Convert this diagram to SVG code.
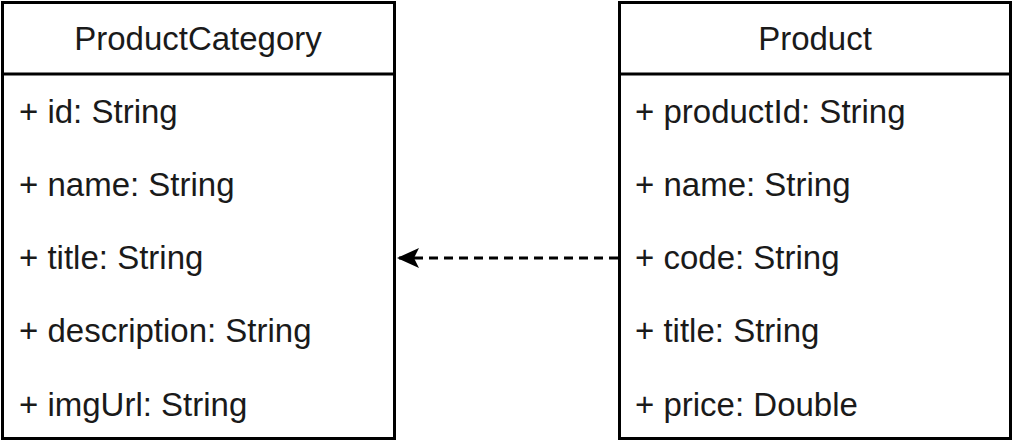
<svg xmlns="http://www.w3.org/2000/svg" width="1014" height="442" viewBox="0 0 1014 442">
<style>
.box{fill:#fff;stroke:#000;stroke-width:3}
.sep{stroke:#000;stroke-width:3}
.t{font-family:"Liberation Sans",Arial,sans-serif;font-size:33px;fill:#1a1a1a}
.h{text-anchor:middle}
.edge{stroke:#000;stroke-width:3;stroke-dasharray:9 6;fill:none}
</style>
<defs>
<marker id="arr" markerUnits="userSpaceOnUse" markerWidth="26" markerHeight="26" refX="23" refY="12" orient="auto" viewBox="0 0 26 24">
<path d="M23,12 L1,2 L6,12 L1,22 Z" fill="#000"/>
</marker>
</defs>
<g id="ProductCategory">
<rect class="box" x="2.5" y="2.5" width="392" height="436"/>
<line class="sep" x1="2.5" y1="74" x2="394.5" y2="74"/>
<text class="t h" x="198" y="50">ProductCategory</text>
<text class="t" x="19" y="123">+ id: String</text>
<text class="t" x="19" y="196">+ name: String</text>
<text class="t" x="19" y="269">+ title: String</text>
<text class="t" x="19" y="342">+ description: String</text>
<text class="t" x="19" y="416">+ imgUrl: String</text>
</g>
<g id="Product">
<rect class="box" x="619.5" y="2.5" width="391" height="436"/>
<line class="sep" x1="619.5" y1="74" x2="1010.5" y2="74"/>
<text class="t h" x="815" y="50">Product</text>
<text class="t" x="635" y="123">+ productId: String</text>
<text class="t" x="635" y="196">+ name: String</text>
<text class="t" x="635" y="269">+ code: String</text>
<text class="t" x="635" y="342">+ title: String</text>
<text class="t" x="635" y="416">+ price: Double</text>
</g>
<g id="connectors">
<line class="edge" x1="618" y1="258" x2="397" y2="258" marker-end="url(#arr)"/>
</g>
</svg>
